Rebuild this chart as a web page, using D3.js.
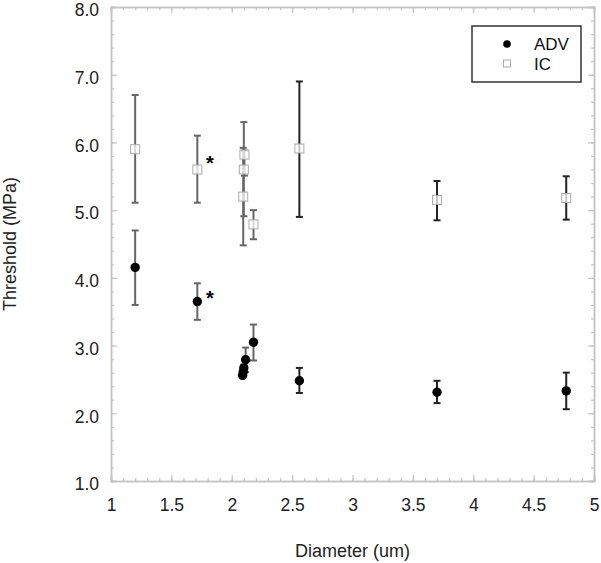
<!DOCTYPE html>
<html>
<head>
<meta charset="utf-8">
<script src="https://cdn.jsdelivr.net/npm/d3@7"></script>
<style>
  body { margin: 0; background: #fff; }
  text { font-family: "Liberation Sans", Arial, sans-serif; }
</style>
</head>
<body>
<div id="chart"></div>
<script>
// values
var advDiam = [1.2, 1.715, 2.115, 2.10, 2.095, 2.09, 2.18, 2.56, 3.70, 4.77];
var advMean = [4.155, 3.65, 2.79, 2.67, 2.61, 2.56, 3.05, 2.48, 2.31, 2.33];
var advLow  = [3.60, 3.38, 2.61, 2.62, 2.56, 2.52, 2.78, 2.30, 2.15, 2.06];
var advHigh = [4.70, 3.92, 2.97, 2.72, 2.66, 2.60, 3.31, 2.67, 2.48, 2.60];

var icDiam = [1.2, 1.715, 2.105, 2.10, 2.095, 2.18, 2.56, 3.70, 4.77];
var icMean = [5.90, 5.60, 5.82, 5.60, 5.20, 4.79, 5.91, 5.15, 5.18];
var icLow  = [5.11, 5.11, 5.51, 4.91, 4.48, 4.57, 4.90, 4.85, 4.86];
var icHigh = [6.70, 6.10, 5.88, 6.30, 5.92, 5.00, 6.90, 5.43, 5.50];

// significance marks
var starDiam = [1.82, 1.82];
var starVal = [3.74, 5.74];

var xTicks = [1, 1.5, 2, 2.5, 3, 3.5, 4, 4.5, 5];
var yTicks = [1, 2, 3, 4, 5, 6, 7, 8];
var seriesNames = ["ADV", "IC"];

var width = 601, height = 563;
var pLeft = 111, pRight = 594, pTop = 7, pBottom = 481;

var svg = d3.select("#chart").append("svg")
  .attr("width", width)
  .attr("height", height);

var x = d3.scaleLinear().domain([1, 5]).range([pLeft, pRight]);
var y = d3.scaleLinear().domain([1, 8]).range([pBottom, pTop]);

var axisColor = "#c4c4c4";

function styleAxis(g) {
  g.selectAll("path").attr("stroke", axisColor).attr("stroke-width", 1.5);
  g.selectAll("line").attr("stroke", axisColor).attr("stroke-width", 1.2);
}

var minorX = d3.range(10, 51).map(d => d / 10);
var minorY = d3.range(5, 41).map(d => d / 5);

// minor ticks, all four sides, pointing inward
svg.append("g").attr("transform", "translate(0," + pBottom + ")")
  .call(d3.axisBottom(x).tickValues(minorX).tickSize(-3).tickFormat(""))
  .call(styleAxis);
svg.append("g").attr("transform", "translate(0," + pTop + ")")
  .call(d3.axisTop(x).tickValues(minorX).tickSize(-3).tickFormat(""))
  .call(styleAxis);
svg.append("g").attr("transform", "translate(" + pLeft + ",0)")
  .call(d3.axisLeft(y).tickValues(minorY).tickSize(-3).tickFormat(""))
  .call(styleAxis);
svg.append("g").attr("transform", "translate(" + pRight + ",0)")
  .call(d3.axisRight(y).tickValues(minorY).tickSize(-3).tickFormat(""))
  .call(styleAxis);

// major ticks with labels
var xAxis = svg.append("g").attr("transform", "translate(0," + pBottom + ")")
  .call(d3.axisBottom(x).tickValues(xTicks).tickSize(-6).tickPadding(18).tickFormat(d3.format("")))
  .call(styleAxis);
xAxis.selectAll("text").style("font-size", "17.5px").attr("fill", "#222");

svg.append("g").attr("transform", "translate(0," + pTop + ")")
  .call(d3.axisTop(x).tickValues(xTicks).tickSize(-6).tickFormat(""))
  .call(styleAxis);

var yAxis = svg.append("g").attr("transform", "translate(" + pLeft + ",0)")
  .call(d3.axisLeft(y).tickValues(yTicks).tickSize(-6).tickPadding(12).tickFormat(d3.format(".1f")))
  .call(styleAxis);
yAxis.selectAll("text").style("font-size", "17.5px").attr("fill", "#222").attr("dy", "0.5em");

svg.append("g").attr("transform", "translate(" + pRight + ",0)")
  .call(d3.axisRight(y).tickValues(yTicks).tickSize(-6).tickFormat(""))
  .call(styleAxis);

svg.selectAll(".domain").attr("stroke", axisColor);

// error bars
function errorBars(diam, low, high) {
  var g = svg.append("g");
  diam.forEach(function(d, i) {
    var col = d < 2.3 ? "#666" : "#222";
    var cx = x(d);
    g.append("line").attr("x1", cx).attr("x2", cx)
      .attr("y1", y(low[i])).attr("y2", y(high[i]))
      .attr("stroke", col).attr("stroke-width", 2);
    [low[i], high[i]].forEach(function(v) {
      g.append("line").attr("x1", cx - 3.5).attr("x2", cx + 3.5)
        .attr("y1", y(v)).attr("y2", y(v))
        .attr("stroke", col).attr("stroke-width", 2);
    });
  });
}
errorBars(icDiam, icLow, icHigh);
errorBars(advDiam, advLow, advHigh);

// IC squares
svg.append("g").selectAll("rect")
  .data(icDiam)
  .enter().append("rect")
  .attr("x", (d, i) => x(d) - 4.5)
  .attr("y", (d, i) => y(icMean[i]) - 4.5)
  .attr("width", 9).attr("height", 9)
  .attr("fill", "white").attr("fill-opacity", 0.75)
  .attr("stroke", "#aaa").attr("stroke-width", 1);

// ADV circles
svg.append("g").selectAll("circle")
  .data(advDiam)
  .enter().append("circle")
  .attr("cx", d => x(d))
  .attr("cy", (d, i) => y(advMean[i]))
  .attr("r", 4.7)
  .attr("fill", "#000");

// asterisks
svg.append("g").selectAll("text")
  .data(starDiam)
  .enter().append("text")
  .attr("x", d => x(d))
  .attr("y", (d, i) => y(starVal[i]) + 10)
  .attr("text-anchor", "middle")
  .style("font-size", "20px")
  .style("font-weight", "bold")
  .text("*");

// legend
var legend = svg.append("g");
legend.append("rect")
  .attr("x", 472).attr("y", 26).attr("width", 109).attr("height", 56)
  .attr("fill", "white").attr("stroke", "#333").attr("stroke-width", 1.5);
legend.append("circle").attr("cx", 507).attr("cy", 44).attr("r", 3.8).attr("fill", "#000");
legend.append("rect").attr("x", 503.5).attr("y", 60).attr("width", 7).attr("height", 7)
  .attr("fill", "white").attr("stroke", "#aaa").attr("stroke-width", 1);
legend.selectAll("text.lbl")
  .data(seriesNames)
  .enter().append("text")
  .attr("class", "lbl")
  .attr("x", 534)
  .attr("y", (d, i) => 50 + i * 20)
  .style("font-size", "17px")
  .attr("fill", "#111")
  .text(d => d);

// axis titles
svg.append("text")
  .attr("x", (pLeft + pRight) / 2)
  .attr("y", 557)
  .attr("text-anchor", "middle")
  .style("font-size", "18px")
  .attr("fill", "#222")
  .text("Diameter (um)");

svg.append("text")
  .attr("transform", "translate(16," + 244 + ") rotate(-90)")
  .attr("text-anchor", "middle")
  .style("font-size", "18px")
  .attr("fill", "#222")
  .text("Threshold (MPa)");
</script>
</body>
</html>
